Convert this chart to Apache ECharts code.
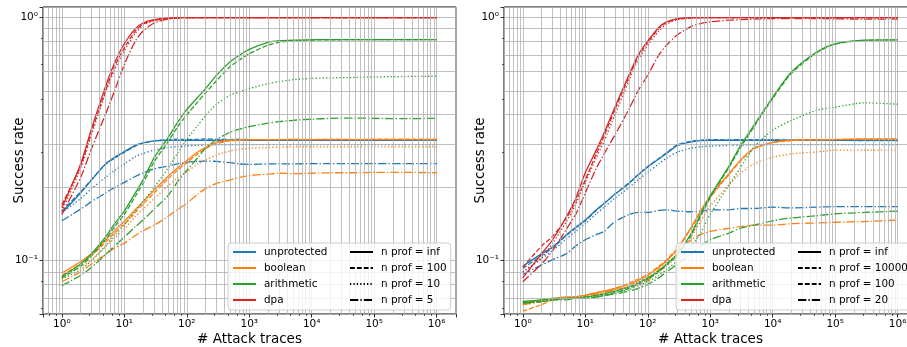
<!DOCTYPE html>
<html><head><meta charset="utf-8">
<script src="https://cdn.jsdelivr.net/npm/echarts@6/dist/echarts.min.js"></script>
<style>html,body{margin:0;padding:0;background:#fff}#c{width:907px;height:347px}</style>
</head><body><div id="c"></div>
<script>
// ---------- data ----------
const X = [1,2,3,5,7,10,15,20,30,50,70,100,150,200,300,500,700,1e3,2e3,3e3,5e3,1e4,2e4,5e4,1e5,3e5,1e6];
const schemes = ['unprotected','boolean','arithmetic','dpa'];
const colors = ['#1f77b4','#ff7f0e','#2ca02c','#d62728'];
const nprofLeft = ['inf','100','10','5'];
const nprofRight = ['inf','10000','100','20'];
const xTickLabels = ['10⁰','10¹','10²','10³','10⁴','10⁵','10⁶'];
const yTickLabels = {'-1':'10⁻¹','0':'10⁰'};

// left panel
const L_unprotected_inf = [0.157,0.19,0.215,0.25,0.266,0.281,0.298,0.305,0.311,0.313,0.313,0.313,0.313,0.313,0.313,0.313,0.313,0.313,0.313,0.313,0.313,0.313,0.313,0.313,0.313,0.313,0.313];
const L_unprotected_100 = [0.16,0.192,0.216,0.249,0.264,0.279,0.296,0.304,0.311,0.315,0.316,0.315,0.316,0.317,0.316,0.315,0.316,0.315,0.314,0.315,0.314,0.315,0.314,0.315,0.314,0.314,0.314];
const L_unprotected_10 = [0.158,0.18,0.198,0.22,0.235,0.25,0.268,0.276,0.285,0.292,0.295,0.297,0.298,0.299,0.3,0.3,0.3,0.3,0.3,0.3,0.3,0.3,0.3,0.3,0.3,0.3,0.3];
const L_unprotected_5 = [0.146,0.163,0.175,0.19,0.2,0.21,0.222,0.23,0.239,0.245,0.25,0.254,0.256,0.257,0.256,0.253,0.25,0.249,0.25,0.25,0.25,0.251,0.251,0.251,0.251,0.251,0.251];
const L_boolean_inf = [0.089,0.099,0.107,0.122,0.133,0.145,0.162,0.175,0.195,0.222,0.24,0.258,0.28,0.293,0.307,0.313,0.314,0.315,0.315,0.315,0.315,0.315,0.315,0.315,0.315,0.315,0.315];
const L_boolean_100 = [0.087,0.097,0.105,0.119,0.13,0.141,0.158,0.171,0.19,0.217,0.235,0.253,0.275,0.289,0.303,0.311,0.313,0.314,0.315,0.315,0.316,0.315,0.316,0.315,0.316,0.316,0.316];
const L_boolean_10 = [0.086,0.094,0.101,0.114,0.124,0.135,0.152,0.163,0.18,0.203,0.218,0.232,0.25,0.26,0.272,0.283,0.287,0.29,0.292,0.293,0.294,0.294,0.294,0.294,0.294,0.294,0.294];
const L_boolean_5 = [0.082,0.09,0.097,0.106,0.113,0.118,0.127,0.133,0.14,0.152,0.162,0.172,0.188,0.198,0.208,0.215,0.22,0.224,0.227,0.229,0.228,0.229,0.23,0.23,0.231,0.231,0.23];
const L_arithmetic_inf = [0.086,0.097,0.107,0.125,0.142,0.16,0.19,0.215,0.265,0.32,0.368,0.418,0.47,0.51,0.58,0.66,0.7,0.74,0.79,0.803,0.808,0.81,0.812,0.812,0.812,0.812,0.812];
const L_arithmetic_100 = [0.085,0.095,0.105,0.122,0.138,0.155,0.184,0.208,0.255,0.308,0.353,0.398,0.45,0.49,0.55,0.63,0.67,0.71,0.77,0.79,0.803,0.808,0.81,0.811,0.812,0.812,0.812];
const L_arithmetic_10 = [0.084,0.092,0.1,0.115,0.127,0.14,0.16,0.175,0.2,0.24,0.275,0.315,0.36,0.395,0.44,0.48,0.495,0.51,0.535,0.545,0.555,0.562,0.565,0.567,0.57,0.572,0.574];
const L_arithmetic_5 = [0.079,0.087,0.094,0.106,0.115,0.125,0.138,0.147,0.163,0.185,0.21,0.235,0.265,0.29,0.315,0.338,0.348,0.356,0.368,0.373,0.378,0.382,0.385,0.386,0.385,0.384,0.385];
const L_dpa_inf = [0.165,0.25,0.35,0.52,0.65,0.78,0.9,0.95,0.98,0.995,1,1,1,1,1,1,1,1,1,1,1,1,1,1,1,1,1];
const L_dpa_100 = [0.17,0.245,0.34,0.5,0.63,0.75,0.88,0.94,0.975,0.99,0.997,1,1,1,1,1,1,1,1,1,1,1,1,1,1,1,1];
const L_dpa_10 = [0.16,0.24,0.33,0.49,0.61,0.73,0.86,0.93,0.97,0.99,0.995,1,1,1,1,1,1,1,1,1,1,1,1,1,1,1,1];
const L_dpa_5 = [0.155,0.22,0.29,0.4,0.5,0.64,0.8,0.88,0.95,0.985,0.995,1,1,1,1,1,1,1,1,1,1,1,1,1,1,1,1];

// right panel
const R_unprotected_inf = [0.095,0.107,0.114,0.128,0.137,0.147,0.162,0.172,0.188,0.208,0.225,0.243,0.262,0.276,0.298,0.308,0.312,0.313,0.313,0.313,0.313,0.313,0.313,0.313,0.313,0.313,0.313];
const R_unprotected_10000 = [0.093,0.105,0.113,0.127,0.136,0.146,0.161,0.172,0.188,0.209,0.226,0.244,0.263,0.278,0.3,0.31,0.313,0.315,0.314,0.315,0.314,0.315,0.313,0.313,0.313,0.312,0.312];
const R_unprotected_100 = [0.09,0.102,0.11,0.123,0.132,0.142,0.156,0.166,0.181,0.2,0.215,0.231,0.25,0.264,0.28,0.29,0.294,0.296,0.298,0.299,0.3,0.3,0.3,0.3,0.3,0.3,0.3];
const R_unprotected_20 = [0.088,0.096,0.101,0.107,0.115,0.122,0.128,0.132,0.145,0.155,0.158,0.158,0.161,0.162,0.16,0.159,0.16,0.162,0.162,0.164,0.164,0.166,0.165,0.166,0.167,0.167,0.167];
const R_boolean_inf = [0.067,0.069,0.07,0.071,0.071,0.072,0.074,0.075,0.077,0.08,0.083,0.087,0.094,0.1,0.112,0.138,0.16,0.185,0.228,0.258,0.29,0.307,0.313,0.315,0.315,0.316,0.316];
const R_boolean_10000 = [0.062,0.066,0.069,0.07,0.071,0.072,0.074,0.075,0.077,0.081,0.084,0.088,0.095,0.101,0.113,0.136,0.158,0.182,0.226,0.256,0.288,0.306,0.312,0.314,0.315,0.317,0.317];
const R_boolean_100 = [0.066,0.068,0.069,0.07,0.071,0.072,0.073,0.074,0.076,0.079,0.082,0.085,0.09,0.095,0.105,0.125,0.145,0.168,0.205,0.228,0.25,0.266,0.275,0.28,0.285,0.285,0.285];
const R_boolean_20 = [0.066,0.068,0.069,0.07,0.071,0.072,0.073,0.074,0.076,0.078,0.08,0.083,0.092,0.1,0.11,0.122,0.128,0.132,0.136,0.138,0.14,0.14,0.142,0.143,0.144,0.145,0.147];
const R_arithmetic_inf = [0.068,0.069,0.07,0.07,0.07,0.071,0.072,0.073,0.075,0.078,0.081,0.085,0.091,0.097,0.107,0.13,0.155,0.185,0.245,0.295,0.36,0.47,0.597,0.72,0.78,0.808,0.81];
const R_arithmetic_10000 = [0.067,0.068,0.069,0.07,0.07,0.07,0.071,0.072,0.074,0.077,0.08,0.084,0.09,0.096,0.106,0.128,0.152,0.182,0.242,0.29,0.355,0.465,0.59,0.715,0.778,0.806,0.81];
const R_arithmetic_100 = [0.068,0.068,0.069,0.07,0.07,0.071,0.071,0.072,0.074,0.076,0.079,0.082,0.087,0.092,0.1,0.115,0.13,0.155,0.205,0.24,0.293,0.344,0.378,0.415,0.428,0.446,0.44];
const R_arithmetic_20 = [0.067,0.068,0.069,0.069,0.07,0.07,0.071,0.072,0.073,0.075,0.077,0.08,0.085,0.09,0.097,0.107,0.115,0.122,0.13,0.136,0.14,0.146,0.15,0.153,0.156,0.158,0.16];
const R_dpa_inf = [0.085,0.107,0.122,0.152,0.18,0.23,0.285,0.335,0.43,0.58,0.7,0.8,0.91,0.96,0.99,1,1,1,1,1,1,1,1,1,1,1,1];
const R_dpa_10000 = [0.094,0.115,0.126,0.15,0.175,0.215,0.275,0.325,0.42,0.57,0.69,0.79,0.9,0.955,0.985,0.995,1,1,1,1,1,1,1,1,1,1,1];
const R_dpa_100 = [0.09,0.103,0.118,0.145,0.17,0.21,0.265,0.31,0.4,0.55,0.67,0.77,0.88,0.94,0.98,0.995,1,1,1,1,1,1,1,1,1,1,1];
const R_dpa_20 = [0.082,0.097,0.11,0.135,0.155,0.19,0.24,0.275,0.33,0.42,0.5,0.58,0.7,0.77,0.85,0.92,0.945,0.96,0.975,0.98,0.985,0.99,0.99,0.99,0.988,0.985,0.985];

const leftData = [
  [L_unprotected_inf, L_unprotected_100, L_unprotected_10, L_unprotected_5],
  [L_boolean_inf, L_boolean_100, L_boolean_10, L_boolean_5],
  [L_arithmetic_inf, L_arithmetic_100, L_arithmetic_10, L_arithmetic_5],
  [L_dpa_inf, L_dpa_100, L_dpa_10, L_dpa_5]
];
const rightData = [
  [R_unprotected_inf, R_unprotected_10000, R_unprotected_100, R_unprotected_20],
  [R_boolean_inf, R_boolean_10000, R_boolean_100, R_boolean_20],
  [R_arithmetic_inf, R_arithmetic_10000, R_arithmetic_100, R_arithmetic_20],
  [R_dpa_inf, R_dpa_10000, R_dpa_100, R_dpa_20]
];

// ---------- style ----------
const XMIN = 0.5, XMAX = 2.04e6, YMIN = 0.0604, YMAX = 1.105;
const LW = 1.3;
const dashes = ['solid', [4.8, 2.1], [1.3, 2.1], [8.3, 2.1, 1.3, 2.1]];
const FONT = 'DejaVu Sans';
const GRIDC = '#b0b0b0';

function powExp(v) {
  const l = Math.log10(v), e = Math.round(l);
  if (Math.abs(l - e) > 1e-6) return null;
  return e;
}
function xFmt(v) { const e = powExp(v); return e === null ? '' : (xTickLabels[e] || ''); }
function yFmt(v) { const e = powExp(v); return e === null ? '' : (yTickLabels[String(e)] || ''); }

const xMinor = [], yMinor = [];
for (let k = -1; k <= 6; k++) for (let m = 2; m <= 9; m++) { const v = m * Math.pow(10, k); if (v > XMIN && v < XMAX) xMinor.push(v); }
for (let k = -2; k <= 0; k++) for (let m = 2; m <= 9; m++) { const v = m * Math.pow(10, k); if (v > YMIN && v < YMAX) yMinor.push(v); }

const grids = [
  {left: 43, top: 7, width: 413, height: 307},
  {left: 504, top: 7, width: 413, height: 307}
].map(g => Object.assign(g, {show: true, borderColor: '#000', borderWidth: 1, backgroundColor: 'transparent',
  containLabel: false, outerBoundsMode: 'none'}));

const xAxes = [0, 1].map(i => ({
  type: 'log', logBase: 10, gridIndex: i, min: XMIN, max: XMAX,
  axisLine: {show: false},
  axisTick: {show: true, length: 3.5, inside: false, lineStyle: {color: '#000', width: 0.8}},
  minorTick: {show: true, length: 2, lineStyle: {color: '#000', width: 0.6}},
  axisLabel: {formatter: xFmt, fontFamily: FONT, fontSize: 10.5, color: '#000', margin: 5},
  splitLine: {show: true, lineStyle: {color: GRIDC, width: 0.8}},
  name: '# Attack traces', nameLocation: 'middle', nameGap: 18, nameMoveOverlap: false,
  nameTextStyle: {fontFamily: FONT, fontSize: 13.5, color: '#000'}
}));
const yAxes = [0, 1].map(i => ({
  type: 'log', logBase: 10, gridIndex: i, min: YMIN, max: YMAX,
  axisLine: {show: false},
  axisTick: {show: true, length: 3.5, inside: false, lineStyle: {color: '#000', width: 0.8}},
  minorTick: {show: true, length: 2, lineStyle: {color: '#000', width: 0.6}},
  axisLabel: {formatter: yFmt, fontFamily: FONT, fontSize: 10.5, color: '#000', margin: 5},
  splitLine: {show: true, lineStyle: {color: GRIDC, width: 0.8}},
  name: 'Success rate', nameLocation: 'middle', nameGap: 17, nameRotate: 90, nameMoveOverlap: false,
  nameTextStyle: {fontFamily: FONT, fontSize: 13.5, color: '#000'}
}));

const series = [];
// minor grid lines
[0, 1].forEach(i => {
  series.push({
    type: 'line', xAxisIndex: i, yAxisIndex: i, data: [[1, 0.1]], symbol: 'none', z: 1,
    lineStyle: {opacity: 0}, silent: true,
    markLine: {
      silent: true, symbol: ['none', 'none'], label: {show: false}, animation: false,
      lineStyle: {color: GRIDC, width: 0.8, type: 'solid'},
      emphasis: {disabled: true},
      data: xMinor.map(v => ({xAxis: v})).concat(yMinor.map(v => ({yAxis: v})))
    }
  });
});
// data lines
[leftData, rightData].forEach((panel, pi) => {
  const np = pi === 0 ? nprofLeft : nprofRight;
  panel.forEach((rows, si) => {
    rows.forEach((ys, ni) => {
      series.push({
        name: (pi ? 'R ' : 'L ') + schemes[si] + ' ' + np[ni],
        type: 'line', xAxisIndex: pi, yAxisIndex: pi, symbol: 'none', showSymbol: false,
        smooth: 0.25, z: 3,
        data: X.map((x, k) => [x, ys[k]]),
        lineStyle: {color: colors[si], width: LW, type: dashes[ni]},
        itemStyle: {color: colors[si]}
      });
    });
  });
});
// legend proxies
schemes.forEach((s, si) => series.push({name: s, type: 'line', data: [], symbol: 'none',
  lineStyle: {color: colors[si], width: LW, type: 'solid'}, itemStyle: {color: colors[si]}}));
const npNames = [];
[nprofLeft, nprofRight].forEach(arr => arr.forEach((n, ni) => {
  const nm = 'n prof = ' + n;
  if (!npNames.includes(nm)) {
    npNames.push(nm);
    series.push({name: nm, type: 'line', data: [], symbol: 'none',
      lineStyle: {color: '#000', width: LW, type: dashes[ni]}, itemStyle: {color: '#000'}});
  }
}));

function legendFor(left, np) {
  return {
    orient: 'vertical', left: left, top: 243, height: 62,
    padding: [3, 4, 4, 4], itemWidth: 23, itemHeight: 12, itemGap: 4,
    backgroundColor: 'rgba(255,255,255,0.8)', borderColor: '#cccccc', borderWidth: 1, borderRadius: 3,
    selectedMode: false, z: 10,
    itemStyle: {opacity: 0, borderWidth: 0},
    textStyle: {fontFamily: FONT, fontSize: 10.4, color: '#000', padding: [0, 0, 0, 3], lineHeight: 12},
    data: schemes.map(s => ({name: s, textStyle: {width: 81}})).concat(np.map(n => 'n prof = ' + n))
  };
}

const chart = echarts.init(document.getElementById('c'), null, {renderer: 'canvas'});
chart.setOption({
  animation: false,
  backgroundColor: '#fff',
  grid: grids,
  xAxis: xAxes,
  yAxis: yAxes,
  legend: [legendFor(228, nprofLeft), legendFor(676, nprofRight)],
  series: series
});
</script>
</body></html>
